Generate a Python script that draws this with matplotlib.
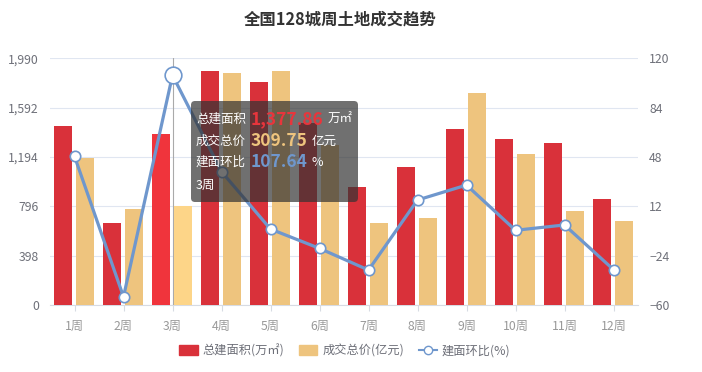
import matplotlib
matplotlib.use('Agg')
import matplotlib.pyplot as plt
import numpy as np
from matplotlib.patches import FancyBboxPatch, Patch
from matplotlib.lines import Line2D
from matplotlib.text import Annotation

plt.rcParams['font.family'] = ['Noto Sans CJK SC', 'DejaVu Sans']

# 数据
weeks = ['1周', '2周', '3周', '4周', '5周', '6周', '7周', '8周', '9周', '10周', '11周', '12周']
area = [1444, 661, 1377.86, 1888, 1801, 1466, 954, 1111, 1417, 1337, 1309, 855]      # 总建面积(万㎡)
price = [459, 299, 309.75, 726, 732, 501, 257, 272, 662, 472, 295, 262]              # 成交总价(亿元)
ratio = [48.5, -54, 107.64, 37.3, -4.6, -18.7, -34.5, 16.6, 27.5, -5.5, -1.6, -34.2]  # 建面环比(%)
hover = 2  # 3周

RED = '#d9313a'
TAN = '#eec47e'
BLUE = '#6f97cd'
GRID = '#e0e6f1'
LBL = '#6e7079'

W, H = 702, 372
fig = plt.figure(figsize=(W / 100, H / 100), dpi=100)
ax = fig.add_axes([50 / W, 1 - 305 / H, 588 / W, 246.7 / H])
axp = ax.twinx()
axr = ax.twinx()

x = np.arange(len(weeks))
redc = [RED] * len(weeks)
tanc = [TAN] * len(weeks)
redc[hover] = '#f0343c'
tanc[hover] = '#fdd588'
ax.bar(x - 0.235, area, width=0.35, color=redc, zorder=3)
axp.bar(x + 0.215, price, width=0.35, color=tanc, zorder=3)

ax.set_ylim(0, 1990)
ax.set_yticks([0, 398, 796, 1194, 1592, 1990])
ax.set_yticklabels(['0', '398', '796', '1,194', '1,592', '1,990'])
axp.set_ylim(0, 772)
axp.set_yticks([])
axr.set_ylim(-60, 120)
axr.set_yticks([-60, -24, 12, 48, 84, 120])
ax.set_xlim(-0.5, len(weeks) - 0.5)
ax.set_xticks(x)
ax.set_xticklabels(weeks)

ax.grid(axis='y', color=GRID, linewidth=0.8, zorder=0)
for a in (ax, axp, axr):
    for s in a.spines.values():
        s.set_visible(False)
ax.spines['bottom'].set_visible(True)
ax.spines['bottom'].set_color('#d7dbe3')
ax.tick_params(axis='y', length=0, labelsize=8.8, labelcolor=LBL, pad=8)
axr.tick_params(axis='y', length=0, labelsize=8.8, labelcolor=LBL, pad=8)
ax.tick_params(axis='x', length=4, color='#d7dbe3', labelsize=8.8, labelcolor='#999999', pad=7)

# 悬停指示线
ax.axvline(hover, color='#aaaaaa', linewidth=0.8, zorder=4)

axr.plot(x, ratio, color=BLUE, linewidth=2.3, marker='o', markersize=7.5,
         markerfacecolor='white', markeredgecolor=BLUE, markeredgewidth=1.2, zorder=5)
axr.plot(x[hover], ratio[hover], 'o', markersize=12, markerfacecolor='white',
         markeredgecolor=BLUE, markeredgewidth=1.2, zorder=6)

fig.text(340 / W, 1 - 20 / H, '全国128城周土地成交趋势', ha='center', va='center',
         fontsize=11.8, fontweight='bold', color='#333333')

# 提示框
box = FancyBboxPatch((191, H - 202), 167, 101, boxstyle='round,pad=0,rounding_size=4',
                     transform=None, facecolor=(0.2, 0.2, 0.2, 0.7), edgecolor='none', zorder=20)
fig.patches.append(box)

rows = [('总建面积', '{:,.2f}'.format(area[hover]), '#e8353c', '万㎡'),
        ('成交总价', '{:,.2f}'.format(price[hover]), '#eec47e', '亿元'),
        ('建面环比', '{:,.2f}'.format(ratio[hover]), BLUE, '%')]
ys = [119, 141, 162]
for (lab, val, col, unit), yy in zip(rows, ys):
    t1 = fig.text(196 / W, 1 - yy / H, lab, ha='left', va='center', fontsize=9,
                  color='white', zorder=21)
    a2 = Annotation(val, xy=(1, 0.5), xycoords=t1, xytext=(3, 0), textcoords='offset points',
                    ha='left', va='center', fontsize=12.5, fontweight='bold', color=col,
                    zorder=21, annotation_clip=False)
    fig.add_artist(a2)
    a3 = Annotation(unit, xy=(1, 0.5), xycoords=a2, xytext=(3, 0), textcoords='offset points',
                    ha='left', va='center', fontsize=9, color='white', zorder=21,
                    annotation_clip=False)
    fig.add_artist(a3)
fig.text(196 / W, 1 - 185 / H, weeks[hover], ha='left', va='center', fontsize=9,
         color='white', zorder=21)

handles = [Patch(color=RED, label='总建面积(万㎡)'),
           Patch(color=TAN, label='成交总价(亿元)'),
           Line2D([0], [0], color=BLUE, marker='o', markerfacecolor='white', markersize=6,
                  linewidth=1.5, label='建面环比(%)')]
fig.legend(handles=handles, loc='center', bbox_to_anchor=(345 / W, 1 - 351 / H), ncol=3,
           frameon=False, fontsize=8.8, labelcolor=LBL, handlelength=1.5, handleheight=0.9,
           columnspacing=1.2, handletextpad=0.4)

fig.savefig('out.png', dpi=100)
